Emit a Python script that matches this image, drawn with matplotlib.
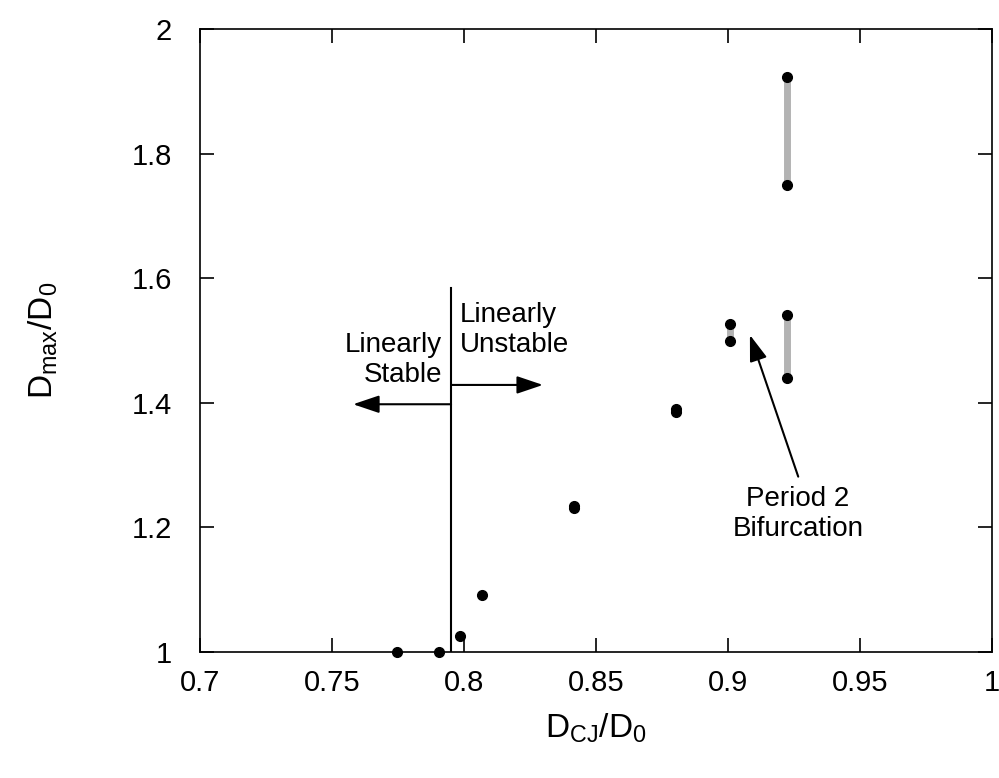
import numpy as np
import matplotlib
matplotlib.use("Agg")
import matplotlib.pyplot as plt

plt.rcParams['font.family'] = ['Liberation Sans', 'DejaVu Sans']
plt.rcParams['mathtext.fontset'] = 'custom'
plt.rcParams['mathtext.rm'] = 'Liberation Sans'

# single-valued points (D_CJ/D_0, D_max/D_0)
x_single = [0.7746, 0.7905, 0.7985, 0.8068, 0.8417, 0.8417, 0.8803, 0.8803]
y_single = [1.000, 1.000, 1.026, 1.092, 1.231, 1.234, 1.385, 1.390]

# period-2 pairs: x, low, high
x_pair = [0.9008, 0.9222, 0.9222]
y_low = [1.4997, 1.4403, 1.749]
y_high = [1.527, 1.541, 1.9225]

# stability boundary
x_boundary = 0.7951
y_boundary_top = 1.584

xticks = [0.7, 0.75, 0.8, 0.85, 0.9, 0.95, 1.0]
xtick_labels = ['0.7', '0.75', '0.8', '0.85', '0.9', '0.95', '1']
yticks = [1.0, 1.2, 1.4, 1.6, 1.8, 2.0]
ytick_labels = ['1', '1.2', '1.4', '1.6', '1.8', '2']

fig = plt.figure(figsize=(9.99, 7.78), dpi=100)
ax = fig.add_axes([0.2002, 0.162, 0.7928, 0.8008])

# gray bars joining the period-2 pairs
ax.vlines(x_pair, y_low, y_high, colors='#b3b3b3', linewidth=5, zorder=2)
ax.plot(x_pair + x_pair, y_low + y_high, 'o', color='black', markersize=7,
        linestyle='none', zorder=3, clip_on=False)
ax.plot(x_single, y_single, 'o', color='black', markersize=7,
        linestyle='none', zorder=3, clip_on=False)

ax.plot([x_boundary, x_boundary], [1.0, y_boundary_top], color='black', linewidth=1.5, zorder=2)

arrow = dict(arrowstyle='-|>,head_length=0.8,head_width=0.27', color='black', linewidth=1.5,
             shrinkA=0, shrinkB=0, mutation_scale=20)
ax.annotate('', xy=(0.758, 1.3976), xytext=(x_boundary, 1.3976), arrowprops=arrow)
ax.annotate('', xy=(0.8299, 1.4286), xytext=(x_boundary, 1.4286), arrowprops=arrow)
ax.annotate('', xy=(0.9083, 1.5088), xytext=(0.9266, 1.2814), arrowprops=arrow)

ax.text(0.7917, 1.469, 'Linearly\nStable', ha='right', va='center', fontsize=20,
        multialignment='right')
ax.text(0.7985, 1.517, 'Linearly\nUnstable', ha='left', va='center', fontsize=20,
        multialignment='left')
ax.text(0.9265, 1.222, 'Period 2\nBifurcation', ha='center', va='center', fontsize=20,
        multialignment='center')

ax.set_xlim(0.7, 1.0)
ax.set_ylim(1.0, 2.0)
ax.set_xticks(xticks)
ax.set_xticklabels(xtick_labels)
ax.set_yticks(yticks)
ax.set_yticklabels(ytick_labels)
ax.tick_params(direction='in', length=10, width=1.2, top=True, right=True, labelsize=21)
ax.tick_params(axis='x', pad=12)
ax.tick_params(axis='y', pad=20)
for s in ax.spines.values():
    s.set_linewidth(1.2)

ax.set_xlabel(r'$\mathregular{D_{CJ}/D_0}$', fontsize=24)
ax.set_ylabel(r'$\mathregular{D_{max}/D_0}$', fontsize=24)
ax.xaxis.set_label_coords(0.5, -0.096)
ax.yaxis.set_label_coords(-0.177, 0.5)

fig.savefig('out.png', dpi=100)
